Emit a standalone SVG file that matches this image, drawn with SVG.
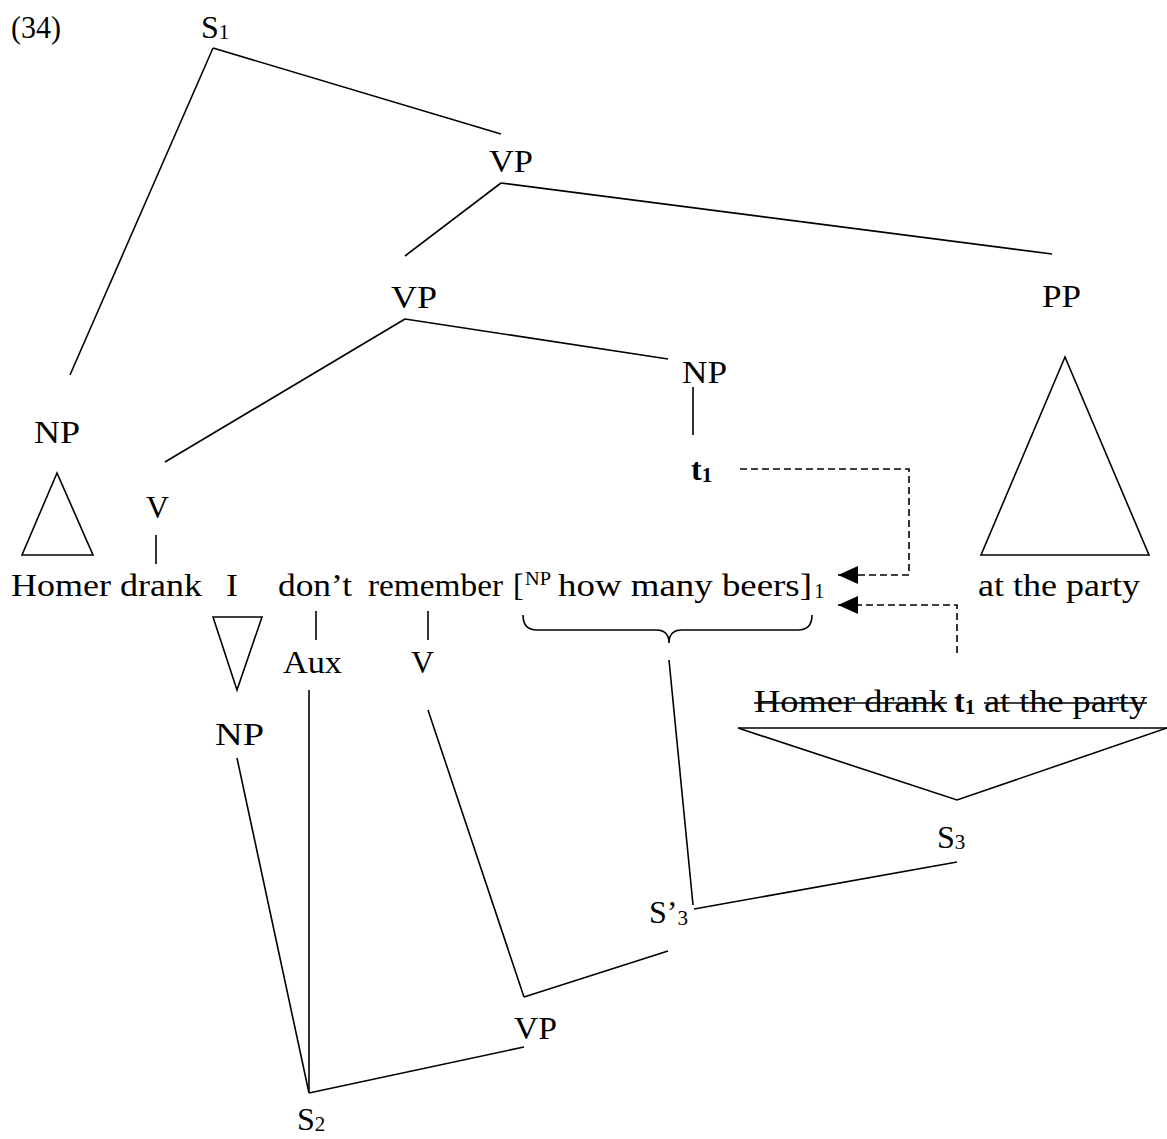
<svg xmlns="http://www.w3.org/2000/svg" width="1167" height="1139" viewBox="0 0 1167 1139">
<defs>
<style>
text{font-family:"Liberation Serif","Times New Roman",serif;font-size:32px;fill:#000}
.sub{font-size:21px}
.sup{font-size:18px}
.b{font-weight:bold}
.ln{stroke:#000;stroke-width:1.6;fill:none}
.dash{stroke:#000;stroke-width:1.6;fill:none;stroke-dasharray:7,4}
</style>
<marker id="ah" markerWidth="20" markerHeight="18" refX="20" refY="9" orient="auto" markerUnits="userSpaceOnUse">
<path d="M0,0 L20,9 L0,18 Z" fill="#000"/>
</marker>
</defs>
<rect width="1167" height="1139" fill="#fff"/>
<text x="11" y="38" textLength="50" lengthAdjust="spacingAndGlyphs">(34)</text>
<g id="S1"><text x="201" y="38">S<tspan class="sub" dy="1">1</tspan></text></g>
<g id="VPtop"><text x="489" y="172" textLength="44" lengthAdjust="spacingAndGlyphs">VP</text></g>
<g id="VPmid"><text x="391" y="308" textLength="46" lengthAdjust="spacingAndGlyphs">VP</text></g>
<g id="PP"><text x="1042" y="307" textLength="39" lengthAdjust="spacingAndGlyphs">PP</text></g>
<g id="NPobj"><text x="682" y="383" textLength="45" lengthAdjust="spacingAndGlyphs">NP</text></g>
<g id="t1"><text class="b" x="691" y="480">t<tspan class="sub" dy="2">1</tspan></text></g>
<g id="NPsubj"><text x="34" y="443" textLength="46" lengthAdjust="spacingAndGlyphs">NP</text>
<polygon class="ln" points="57,473 22,555 93,555"/></g>
<g id="V1"><text x="146" y="518" textLength="23" lengthAdjust="spacingAndGlyphs">V</text></g>
<g id="PPtri"><polygon class="ln" points="1065,357 981,555 1149,555"/></g>
<g id="words">
<text x="11" y="596" textLength="191" lengthAdjust="spacingAndGlyphs">Homer drank</text>
<text x="226" y="596" textLength="12" lengthAdjust="spacingAndGlyphs">I</text>
<text x="278" y="596" textLength="74" lengthAdjust="spacingAndGlyphs">don’t</text>
<text x="368" y="596" textLength="135" lengthAdjust="spacingAndGlyphs">remember</text>
<text x="513" y="596">[</text>
<text class="sup" x="525" y="585" textLength="26" lengthAdjust="spacingAndGlyphs">NP</text>
<text x="558" y="596" textLength="254" lengthAdjust="spacingAndGlyphs">how many beers]</text>
<text class="sub" x="814" y="598">1</text>
<text x="978" y="596" textLength="162" lengthAdjust="spacingAndGlyphs">at the party</text>
</g>
<g id="NPI"><polygon class="ln" points="213,617 262,617 237,690"/>
<text x="215" y="745" textLength="49" lengthAdjust="spacingAndGlyphs">NP</text></g>
<g id="Aux"><text x="283" y="673" textLength="59" lengthAdjust="spacingAndGlyphs">Aux</text></g>
<g id="V2"><text x="411" y="673" textLength="23" lengthAdjust="spacingAndGlyphs">V</text></g>
<g id="brace"><path class="ln" d="M523,615 Q523,630 537,630 H656 Q669,630 669,643 Q669,630 682,630 H798 Q812,630 812,615"/></g>
<g id="embedded">
<text x="754" y="712" textLength="193" lengthAdjust="spacingAndGlyphs">Homer drank</text>
<text class="b" x="954" y="712">t<tspan class="sub" dy="2">1</tspan></text>
<text x="984" y="712" textLength="163" lengthAdjust="spacingAndGlyphs">at the party</text>
<line class="ln" x1="754" y1="703" x2="947" y2="703"/>
<line class="ln" x1="984" y1="703" x2="1147" y2="703"/>
<polyline class="ln" points="738,728 1167,728"/>
<polyline class="ln" points="738,728 957,800 1167,728"/>
</g>
<g id="S3"><text x="937" y="848">S<tspan class="sub" dy="1">3</tspan></text></g>
<g id="S3p"><text x="649" y="923">S’<tspan class="sub" dy="2">3</tspan></text></g>
<g id="VPlow"><text x="514" y="1039" textLength="43" lengthAdjust="spacingAndGlyphs">VP</text></g>
<g id="S2"><text x="297" y="1130">S<tspan class="sub" dy="1">2</tspan></text></g>
<g id="connectors">
<line class="ln" x1="213" y1="48" x2="70" y2="375"/>
<line class="ln" x1="213" y1="48" x2="501" y2="134"/>
<line class="ln" x1="501" y1="183" x2="405" y2="256"/>
<line class="ln" x1="501" y1="183" x2="1052" y2="254"/>
<line class="ln" x1="405" y1="319" x2="165" y2="462"/>
<line class="ln" x1="405" y1="319" x2="668" y2="359"/>
<line class="ln" x1="693" y1="387" x2="693" y2="435"/>
<line class="ln" x1="156" y1="535" x2="156" y2="564"/>
<line class="ln" x1="316" y1="611" x2="316" y2="640"/>
<line class="ln" x1="428" y1="611" x2="428" y2="640"/>
<line class="ln" x1="669" y1="660" x2="693" y2="905"/>
<line class="ln" x1="957" y1="862" x2="694" y2="909"/>
<line class="ln" x1="668" y1="951" x2="524" y2="997"/>
<line class="ln" x1="428" y1="710" x2="524" y2="997"/>
<line class="ln" x1="524" y1="1047" x2="309" y2="1093"/>
<line class="ln" x1="309" y1="690" x2="309" y2="1093"/>
<line class="ln" x1="237" y1="758" x2="309" y2="1093"/>
<path class="dash" d="M740,469 H909 V575 H838" marker-end="url(#ah)"/>
<path class="dash" d="M957,653 V605 H838" marker-end="url(#ah)"/>
</g>
</svg>
